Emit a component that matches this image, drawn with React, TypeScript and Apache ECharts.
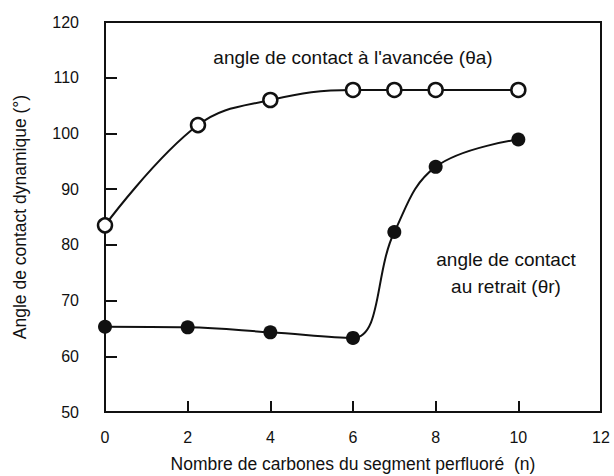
import React, { useEffect, useRef } from "react";
import * as echarts from "echarts";

const nAdvancing = [0, 2.25, 4, 6, 7, 8, 10];
const thetaAdvancing = [83.5, 101.5, 106, 107.8, 107.8, 107.8, 107.8];
const nReceding = [0, 2, 4, 6, 7, 8, 10];
const thetaReceding = [65.3, 65.2, 64.3, 63.3, 82.3, 94, 98.9];

const xTitle = "Nombre de carbones du segment perfluoré  (n)";
const yTitle = "Angle de contact dynamique (°)";
const labelAdvancing = "angle de contact à l'avancée (θa)";
const labelReceding = "angle de contact\nau retrait (θr)";

const FONT = "'Liberation Sans', Arial, Helvetica, sans-serif";
const INK = "#111";

export default function App() {
  const ref = useRef<HTMLDivElement>(null);
  useEffect(() => {
    if (!ref.current) return;
    const chart = echarts.init(ref.current, null, { renderer: "svg" });
    const pairs = (xs: number[], ys: number[]) => xs.map((x, i) => [x, ys[i]]);
    chart.setOption({
      animation: false,
      backgroundColor: "#fff",
      textStyle: { fontFamily: FONT, color: INK },
      grid: {
        left: 105,
        right: 13,
        top: 22,
        bottom: 64,
        containLabel: false,
        outerBoundsMode: "none",
        show: true,
        borderColor: INK,
        borderWidth: 2,
        backgroundColor: "transparent",
      },
      xAxis: {
        type: "value",
        min: 0,
        max: 12,
        interval: 2,
        name: xTitle,
        nameLocation: "middle",
        nameGap: 43,
        nameTextStyle: { fontFamily: FONT, fontSize: 17.5, color: INK },
        axisLine: { show: true, lineStyle: { color: INK, width: 2 } },
        axisTick: { show: true, inside: true, length: 11, lineStyle: { color: INK, width: 2 } },
        axisLabel: { fontFamily: FONT, fontSize: 16, color: INK, margin: 17 },
        splitLine: { show: false },
      },
      yAxis: {
        type: "value",
        min: 50,
        max: 120,
        interval: 10,
        name: yTitle,
        nameLocation: "middle",
        nameGap: 76,
        nameRotate: 90,
        nameTextStyle: { fontFamily: FONT, fontSize: 17.5, color: INK },
        axisLine: { show: true, lineStyle: { color: INK, width: 2 } },
        axisTick: { show: true, inside: true, length: 12, lineStyle: { color: INK, width: 2 } },
        axisLabel: { fontFamily: FONT, fontSize: 16, color: INK, margin: 26 },
        splitLine: { show: false },
      },
      series: [
        {
          type: "line",
          name: "θa",
          data: pairs(nAdvancing, thetaAdvancing),
          smooth: 0.4,
          symbol: "circle",
          symbolSize: 14,
          lineStyle: { color: INK, width: 2 },
          itemStyle: { color: "#fff", borderColor: INK, borderWidth: 2.5 },
          z: 3,
        },
        {
          type: "line",
          name: "θr",
          data: pairs(nReceding, thetaReceding),
          smooth: 0.4,
          symbol: "circle",
          symbolSize: 14,
          lineStyle: { color: INK, width: 2 },
          itemStyle: { color: INK, borderColor: INK, borderWidth: 0 },
          z: 3,
        },
      ],
      graphic: [
        {
          type: "text",
          x: 353,
          y: 57,
          style: {
            text: labelAdvancing,
            fontFamily: FONT,
            fontSize: 19,
            fill: INK,
            align: "center",
            verticalAlign: "middle",
          },
        },
        {
          type: "text",
          x: 506,
          y: 273,
          style: {
            text: labelReceding,
            fontFamily: FONT,
            fontSize: 19,
            lineHeight: 27,
            fill: INK,
            align: "center",
            verticalAlign: "middle",
          },
        },
      ],
    });
    return () => chart.dispose();
  }, []);
  return <div ref={ref} style={{ width: 614, height: 476, position: "fixed", left: 0, top: 0 }} />;
}
